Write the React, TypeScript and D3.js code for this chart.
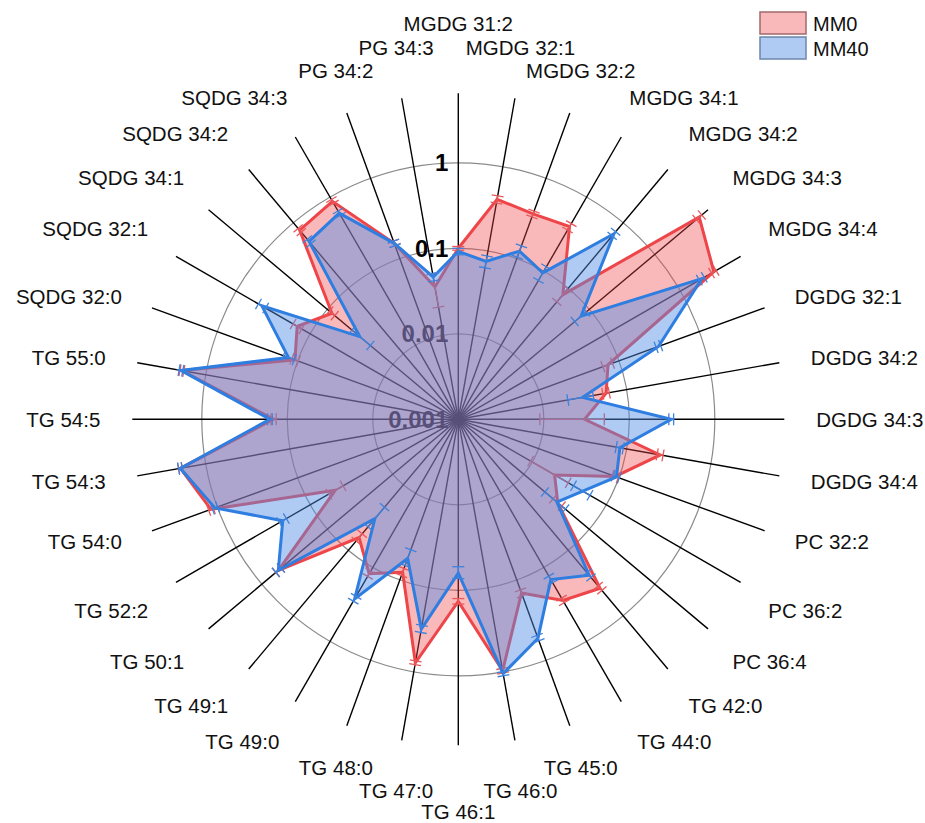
import React from "react";
import * as d3 from "d3";

const categories = [
  "MGDG 31:2", "MGDG 32:1", "MGDG 32:2", "MGDG 34:1", "MGDG 34:2", "MGDG 34:3",
  "MGDG 34:4", "DGDG 32:1", "DGDG 34:2", "DGDG 34:3", "DGDG 34:4", "PC 32:2",
  "PC 36:2", "PC 36:4", "TG 42:0", "TG 44:0", "TG 45:0", "TG 46:0",
  "TG 46:1", "TG 47:0", "TG 48:0", "TG 49:0", "TG 49:1", "TG 50:1",
  "TG 52:2", "TG 54:0", "TG 54:3", "TG 54:5", "TG 55:0", "SQDG 32:0",
  "SQDG 32:1", "SQDG 34:1", "SQDG 34:2", "SQDG 34:3", "PG 34:2", "PG 34:3",
];

const mm0 = [
  0.1, 0.41, 0.36, 0.40, 0.080, 4.77, 2.83, 0.073, 0.057, 0.030, 0.25, 0.09,
  0.020, 0.033, 0.38, 0.28, 0.145, 0.97, 0.135, 0.78, 0.080, 0.122, 0.064, 0.56,
  0.046, 1.2, 2.0, 0.145, 1.92, 0.108, 0.15, 0.085, 0.77, 0.88, 0.155, 0.0375,
];
const mm0Sd = [
  0.005, 0.04, 0.03, 0.04, 0.018, 0.45, 0.2, 0.01, 0.005, 0.021, 0.02, 0.008,
  0.0105, 0.005, 0.03, 0.02, 0.012, 0.06, 0.01, 0.04, 0.008, 0.01, 0.008, 0.05,
  0.01, 0.08, 0.1, 0.01, 0.1, 0.01, 0.02, 0.008, 0.05, 0.05, 0.01, 0.016,
];

const mm40 = [
  0.092, 0.075, 0.124, 0.095, 0.68, 0.075, 1.95, 0.31, 0.030, 0.31, 0.083, 0.093,
  0.048, 0.032, 0.24, 0.146, 0.53, 1.05, 0.063, 0.31, 0.054, 0.266, 0.033, 0.56,
  0.235, 1.07, 2.0, 0.16, 1.97, 0.13, 0.45, 0.032, 0.52, 0.61, 0.155, 0.049,
];
const mm40Sd = [
  0.008, 0.012, 0.02, 0.02, 0.05, 0.015, 0.15, 0.02, 0.01, 0.02, 0.008, 0.008,
  0.012, 0.011, 0.02, 0.015, 0.04, 0.06, 0.01, 0.03, 0.012, 0.02, 0.011, 0.05,
  0.025, 0.08, 0.1, 0.01, 0.1, 0.02, 0.05, 0.01, 0.04, 0.04, 0.01, 0.005,
];

const tickValues = [0.001, 0.01, 0.1, 1];
const tickLabels = ["0.001", "0.01", "0.1", "1"];

const width = 925;
const height = 823;
const cx = 458.3;
const cy = 419.3;
const outerR = 326;
const labelR = 358;
const font = "'Liberation Sans', Arial, sans-serif";

const r = d3.scaleLog().domain([0.001, 6.5]).range([0, outerR]).clamp(true);
const angle = d3.scaleLinear().domain([0, categories.length]).range([0, 2 * Math.PI]);

const series = [
  { name: "MM0", values: mm0, sd: mm0Sd, fill: "rgba(240,70,75,0.38)", line: "#ee4549", cap: "#e8585b", box: "#a0696b" },
  { name: "MM40", values: mm40, sd: mm40Sd, fill: "rgba(83,142,229,0.46)", line: "#2e7de0", cap: "#3d82dc", box: "#6c86ab" },
];

function polar(a: number, rad: number): [number, number] {
  return [rad * Math.sin(a), -rad * Math.cos(a)];
}

// vertical nudge of category labels away from the centre
function labelNudge(c: number) {
  const ac = Math.abs(c);
  if (ac > 0.99) return c > 0 ? 38 : 34;
  if (ac > 0.95) return 19;
  if (ac > 0.45) return 12;
  return 0;
}

export default function App() {
  const line = d3.lineRadial<number>()
    .angle((_, i) => angle(i))
    .radius(d => r(d))
    .curve(d3.curveLinearClosed);

  return (
    <svg width={width} height={height} style={{ position: "absolute", left: 0, top: 0, background: "#fff" }}>
      <g transform={`translate(${cx},${cy})`}>
        {/* rings */}
        {tickValues.slice(1).map(t => (
          <circle key={t} r={r(t)} fill="none" stroke="#8a8a8a" strokeWidth={1.2} />
        ))}
        {/* spokes */}
        {categories.map((c, i) => {
          const [x, y] = polar(angle(i), outerR);
          return <line key={c} x1={0} y1={0} x2={x} y2={y} stroke="#000" strokeWidth={1.4} />;
        })}
        {/* tick labels */}
        {tickValues.map((t, i) => (
          <text key={t} x={-10} y={-r(t)} textAnchor="end" dominantBaseline="central"
            fontFamily={font} fontWeight="bold" fontSize={24} fill="#000">
            {tickLabels[i]}
          </text>
        ))}
        {/* series */}
        {series.map(s => (
          <g key={s.name}>
            <path d={line(s.values) || ""} fill={s.fill} stroke="none" />
            <path d={line(s.values) || ""} fill="none" stroke={s.line} strokeWidth={3} strokeLinejoin="miter" />
            {s.values.map((v, i) => {
              const a = angle(i);
              const lo = r(Math.max(v - s.sd[i], 0.001));
              const hi = r(v + s.sd[i]);
              const [x1, y1] = polar(a, lo);
              const [x2, y2] = polar(a, hi);
              const px = Math.cos(a) * 6;
              const py = Math.sin(a) * 6;
              return (
                <g key={i} stroke={s.cap} strokeWidth={1.3}>
                  <line x1={x1} y1={y1} x2={x2} y2={y2} />
                  <line x1={x1 - px} y1={y1 - py} x2={x1 + px} y2={y1 + py} />
                  <line x1={x2 - px} y1={y2 - py} x2={x2 + px} y2={y2 + py} />
                </g>
              );
            })}
          </g>
        ))}
        {/* category labels */}
        {categories.map((c, i) => {
          const a = angle(i);
          const s = Math.sin(a);
          const co = Math.cos(a);
          const anchor = Math.abs(s) < 0.4 ? "middle" : s > 0 ? "start" : "end";
          // upper labels at +-30deg sit a little closer to the vertical axis
          const pull = co > 0.8 && Math.abs(s) >= 0.4 ? -Math.sign(s) * 8 : 0;
          const x = labelR * s + pull;
          const y = -labelR * co - Math.sign(co) * labelNudge(co);
          return (
            <text key={c} x={x} y={y} textAnchor={anchor} dominantBaseline="central"
              fontFamily={font} fontSize={20.5} fill="#111">
              {c}
            </text>
          );
        })}
      </g>
      {/* legend */}
      {series.map((s, i) => (
        <g key={s.name} transform={`translate(760,${12 + i * 25})`}>
          <rect width={46} height={22} fill={s.fill} stroke={s.box} strokeWidth={1.5} />
          <text x={53} y={11.5} dominantBaseline="central" fontFamily={font} fontSize={20} fill="#111">
            {s.name}
          </text>
        </g>
      ))}
    </svg>
  );
}
